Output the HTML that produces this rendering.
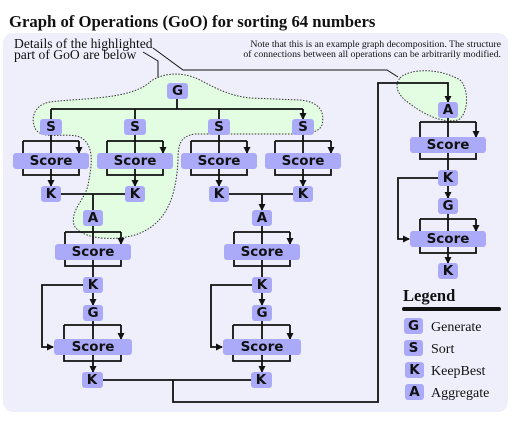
<!DOCTYPE html>
<html><head><meta charset="utf-8"><style>
html,body{margin:0;padding:0;background:#fff}
svg{display:block}
.b{fill:#aaaaf8}
.t{font-family:"DejaVu Sans",sans-serif;font-weight:bold;font-size:13.5px;fill:#111;text-anchor:middle;dominant-baseline:central}
.l{fill:none;stroke:#111;stroke-width:1.8}
.s{font-family:"Liberation Serif",serif;fill:#111}
</style></head><body>
<svg width="520" height="421" viewBox="0 0 520 421" xmlns="http://www.w3.org/2000/svg">
<defs><marker id="a" markerWidth="7" markerHeight="7" refX="6" refY="3.5" orient="auto" markerUnits="userSpaceOnUse"><path d="M0,0 L7,3.5 L0,7 Z" fill="#111"/></marker></defs>
<text x="9" y="27" class="s" font-size="16.7" font-weight="bold">Graph of Operations (GoO) for sorting 64 numbers</text>
<rect x="3" y="33" width="505" height="379" rx="10" fill="#efeffc"/>
<text x="14" y="48" class="s" font-size="13.6">Details of the highlighted</text>
<text x="14" y="59" class="s" font-size="13.6">part of GoO are below</text>
<text x="501" y="47" class="s" font-size="9.8" text-anchor="end">Note that this is an example graph decomposition. The structure</text>
<text x="501" y="57" class="s" font-size="9.8" text-anchor="end">of connections between all operations can be arbitrarily modified.</text>
<path d="M143,52 L158,61 L158,80" fill="none" stroke="#111" stroke-width="1"/>
<path d="M153,48 L183,70 L387,70 L398,77" fill="none" stroke="#111" stroke-width="1"/>
<path d="M150,82 C160,74 180,70 200,80 C215,88 230,96 250,98 L300,100 C320,102 325,112 322,125 C318,135 300,134 280,134 L195,134 C180,136 178,145 178,160 C176,200 165,225 135,235 C110,242 80,238 74,225 C70,210 85,200 88,185 C92,165 95,145 80,137 C65,132 45,140 36,130 C30,120 33,105 50,102 C80,98 130,100 150,82 Z" fill="#e3fde3" stroke="#333" stroke-width="1" stroke-dasharray="1.5,1.5"/>
<path d="M400,78 C410,68 440,68 460,80 C470,90 468,115 458,120 C440,124 420,112 405,100 C396,92 395,84 400,78 Z" fill="#e3fde3" stroke="#333" stroke-width="1" stroke-dasharray="1.5,1.5"/>
<g class="l">
<path d="M177,99 V109 M51,109 H303"/>
<path d="M51,109 V119 M135,109 V119 M219,109 V119 M303,109 V119" marker-end="url(#a)"/>
</g>
<g id="top">
<g class="l">
<path d="M51,135 V141 M23,141 H79"/>
<path d="M23,141 V153 M51,141 V153 M79,141 V153" marker-end="url(#a)"/>
<path d="M23,169 V175 H79 V169"/>
<path d="M51,169 V186" marker-end="url(#a)"/>
</g>
<rect class="b" x="40" y="119" width="22" height="16" rx="3"/><text class="t" x="51" y="127">S</text>
<rect class="b" x="13" y="153" width="76" height="16" rx="3"/><text class="t" x="51" y="161">Score</text>
<rect class="b" x="41" y="186" width="20" height="16" rx="3"/><text class="t" x="51" y="194">K</text>
</g>
<use href="#top" x="84"/><use href="#top" x="168"/><use href="#top" x="252"/>
<g class="l">
<path d="M61,194 H125 M229,194 H293"/>
<path d="M93,194 V210 M262,194 V210" marker-end="url(#a)"/>
</g>
<g id="mid">
<g class="l">
<path d="M93,226 V232 M65,232 H121"/>
<path d="M65,232 V244 M93,232 V244 M121,232 V244" marker-end="url(#a)"/>
<path d="M65,260 V266 H121 V260"/>
<path d="M93,260 V277 M93,293 V305" marker-end="url(#a)"/>
<path d="M93,321 V325 M64,325 H121"/>
<path d="M64,325 V339 M93,325 V339 M121,325 V339" marker-end="url(#a)"/>
<path d="M64,355 V361 H121 V355"/>
<path d="M93,355 V372" marker-end="url(#a)"/>
<path d="M83,285 H42 V347 H53" marker-end="url(#a)"/>
</g>
<rect class="b" x="83" y="210" width="20" height="16" rx="3"/><text class="t" x="93" y="218">A</text>
<rect class="b" x="55" y="244" width="76" height="16" rx="3"/><text class="t" x="93" y="252">Score</text>
<rect class="b" x="83" y="277" width="20" height="16" rx="3"/><text class="t" x="93" y="285">K</text>
<rect class="b" x="83" y="305" width="20" height="16" rx="3"/><text class="t" x="93" y="313">G</text>
<rect class="b" x="54" y="339" width="78" height="16" rx="3"/><text class="t" x="93" y="347">Score</text>
<rect class="b" x="82" y="372" width="21" height="16" rx="3"/><text class="t" x="92" y="380">K</text>
</g>
<use href="#mid" x="169"/>
<path class="l" d="M103,380 H251 M173,380 V402 H378 V83 H448 V102" marker-end="url(#a)"/>
<g class="l">
<path d="M448,118 V122 M420,122 H476"/>
<path d="M420,122 V137 M448,122 V137 M476,122 V137" marker-end="url(#a)"/>
<path d="M420,153 V159 H476 V153"/>
<path d="M448,153 V170 M448,186 V198" marker-end="url(#a)"/>
<path d="M448,214 V219 M420,219 H476"/>
<path d="M420,219 V231 M448,219 V231 M476,219 V231" marker-end="url(#a)"/>
<path d="M420,247 V253 H476 V247"/>
<path d="M448,247 V263" marker-end="url(#a)"/>
<path d="M438,178 H398 V239 H409" marker-end="url(#a)"/>
</g>
<rect class="b" x="167" y="83" width="21" height="16" rx="3"/><text class="t" x="177.5" y="91">G</text>
<rect class="b" x="438" y="102" width="20" height="16" rx="3"/><text class="t" x="448" y="110">A</text>
<rect class="b" x="410" y="137" width="76" height="16" rx="3"/><text class="t" x="448" y="145">Score</text>
<rect class="b" x="438" y="170" width="20" height="16" rx="3"/><text class="t" x="448" y="178">K</text>
<rect class="b" x="438" y="198" width="20" height="16" rx="3"/><text class="t" x="448" y="206">G</text>
<rect class="b" x="410" y="231" width="76" height="16" rx="3"/><text class="t" x="448" y="239">Score</text>
<rect class="b" x="438" y="263" width="20" height="16" rx="3"/><text class="t" x="448" y="271">K</text>
<text x="403" y="301" class="s" font-size="16.5" font-weight="bold">Legend</text>
<line x1="404" y1="309" x2="499" y2="309" stroke="#111" stroke-width="4" stroke-linecap="round"/>
<rect class="b" x="404" y="318" width="19" height="16" rx="3"/><text class="t" x="413.5" y="326">G</text>
<rect class="b" x="404" y="340" width="19" height="16" rx="3"/><text class="t" x="413.5" y="348">S</text>
<rect class="b" x="405" y="362" width="19" height="16" rx="3"/><text class="t" x="414.5" y="370">K</text>
<rect class="b" x="405" y="384" width="19" height="16" rx="3"/><text class="t" x="414.5" y="392">A</text>
<text x="431" y="331" class="s" font-size="14">Generate</text>
<text x="431" y="353" class="s" font-size="14">Sort</text>
<text x="431" y="375" class="s" font-size="14">KeepBest</text>
<text x="431" y="397" class="s" font-size="14">Aggregate</text>
</svg>
</body></html>
